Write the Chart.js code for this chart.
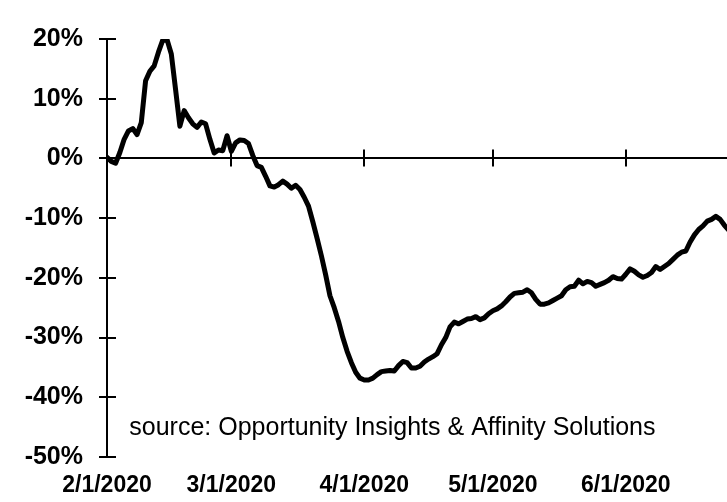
<!DOCTYPE html>
<html>
<head>
<meta charset="utf-8">
<script src="https://cdn.jsdelivr.net/npm/chart.js@4.4.1/dist/chart.umd.min.js"></script>
<style>
  html, body { margin: 0; padding: 0; background: #fff; }
  #wrap { width: 727px; height: 502px; }
</style>
</head>
<body>
<div id="wrap"><canvas id="myChart"></canvas></div>
<script>
// daily change in consumer spending vs. January, one value per day from 2/1/2020
const dailyChange = [
    0.2, -0.5, -0.8, 1.0, 3.2, 4.6, 5.0, 4.0, 6.0, 13.0,
    14.6, 15.5, 17.8, 19.8, 19.9, 17.5, 11.5, 5.4, 8.0, 6.8,
    5.8, 5.2, 6.1, 5.8, 3.2, 0.9, 1.4, 1.3, 3.8, 1.2,
    2.6, 3.1, 3.0, 2.5, 0.5, -1.2, -1.5, -3.0, -4.6, -4.8,
    -4.4, -3.8, -4.3, -5.0, -4.5, -5.2, -6.5, -8.0, -10.6, -13.4,
    -16.3, -19.5, -23.0, -25.0, -27.3, -30.0, -32.3, -34.2, -35.8, -36.8,
    -37.1, -37.1, -36.8, -36.2, -35.7, -35.6, -35.5, -35.6, -34.7, -34.0,
    -34.2, -35.1, -35.1, -34.8, -34.1, -33.6, -33.2, -32.7, -31.2, -30.0,
    -28.2, -27.4, -27.7, -27.3, -26.9, -26.8, -26.5, -27.0, -26.7, -26.0,
    -25.5, -25.2, -24.7, -24.0, -23.2, -22.6, -22.5, -22.4, -22.0, -22.5,
    -23.6, -24.4, -24.4, -24.2, -23.8, -23.4, -23.0, -22.0, -21.5, -21.4,
    -20.4, -21.0, -20.6, -20.8, -21.4, -21.1, -20.8, -20.4, -19.8, -20.1,
    -20.2, -19.4, -18.5, -18.9, -19.5, -19.9, -19.6, -19.1, -18.1, -18.6,
    -18.1, -17.6, -16.9, -16.2, -15.7, -15.5, -14.0, -12.8, -11.9, -11.3,
    -10.5, -10.2, -9.7, -10.2, -11.2, -12.0
];

// x-axis ticks: day offset of each month start and its label
const monthDays = [0, 29, 60, 90, 121];
const monthLabels = ['2/1/2020', '3/1/2020', '4/1/2020', '5/1/2020', '6/1/2020'];

const sourceNote = 'source: Opportunity Insights & Affinity Solutions';

const points = dailyChange.map((v, i) => ({ x: i, y: v }));

// tick marks that cross the axes, plus the source note
const axisMarks = {
    id: 'axisMarks',
    afterDraw(chart) {
        const c = chart.ctx;
        const xs = chart.scales.x;
        const ys = chart.scales.y;
        const y0 = ys.getPixelForValue(0);
        const left = chart.chartArea.left;
        c.save();
        c.strokeStyle = '#000';
        c.lineWidth = 2;
        c.beginPath();
        monthDays.slice(1).forEach(d => {
            const px = Math.round(xs.getPixelForValue(d));
            c.moveTo(px, y0 - 9);
            c.lineTo(px, y0 + 8);
        });
        ys.ticks.forEach(t => {
            const py = Math.round(ys.getPixelForValue(t.value));
            c.moveTo(left - 8, py);
            c.lineTo(left + 9, py);
        });
        c.stroke();

        c.fillStyle = '#000';
        c.font = '25px "Liberation Sans", Arial, sans-serif';
        c.textBaseline = 'middle';
        c.textAlign = 'left';
        c.fillText(sourceNote, xs.getPixelForValue(5.2), ys.getPixelForValue(-45.1));
        c.restore();
    }
};

const ctx = document.getElementById('myChart');
const myChart = new Chart(ctx, {
    type: 'line',
    data: {
        datasets: [{
            data: points,
            borderColor: '#000',
            borderWidth: 5,
            borderJoinStyle: 'round',
            borderCapStyle: 'round',
            pointRadius: 0,
            tension: 0,
            fill: false
        }]
    },
    options: {
        responsive: true,
        maintainAspectRatio: false,
        animation: false,
        layout: { padding: { top: 30, right: 0, left: 0, bottom: 0 } },
        scales: {
            x: {
                type: 'linear',
                min: 0,
                max: 144.6,
                afterBuildTicks: s => { s.ticks = monthDays.map(d => ({ value: d })); },
                afterFit: s => { s.height = 45; },
                grid: { display: false, drawTicks: false },
                border: { display: false },
                ticks: {
                    autoSkip: false,
                    maxRotation: 0,
                    padding: 15,
                    color: '#000',
                    font: { family: '"Liberation Sans", Arial, sans-serif', size: 23, weight: 'bold' },
                    callback: (val) => monthLabels[monthDays.indexOf(val)]
                }
            },
            y: {
                min: -50,
                max: 20,
                afterFit: s => { s.width = 107; },
                grid: {
                    drawTicks: false,
                    lineWidth: 2,
                    color: c => c.tick && c.tick.value === 0 ? '#000' : 'rgba(0,0,0,0)'
                },
                border: { display: true, color: '#000', width: 2 },
                ticks: {
                    stepSize: 10,
                    padding: 24,
                    color: '#000',
                    font: { family: '"Liberation Sans", Arial, sans-serif', size: 25, weight: 'bold' },
                    callback: v => v + '%'
                }
            }
        },
        plugins: {
            legend: { display: false },
            tooltip: { enabled: false },
            title: { display: false }
        }
    },
    plugins: [axisMarks]
});
</script>
</body>
</html>
